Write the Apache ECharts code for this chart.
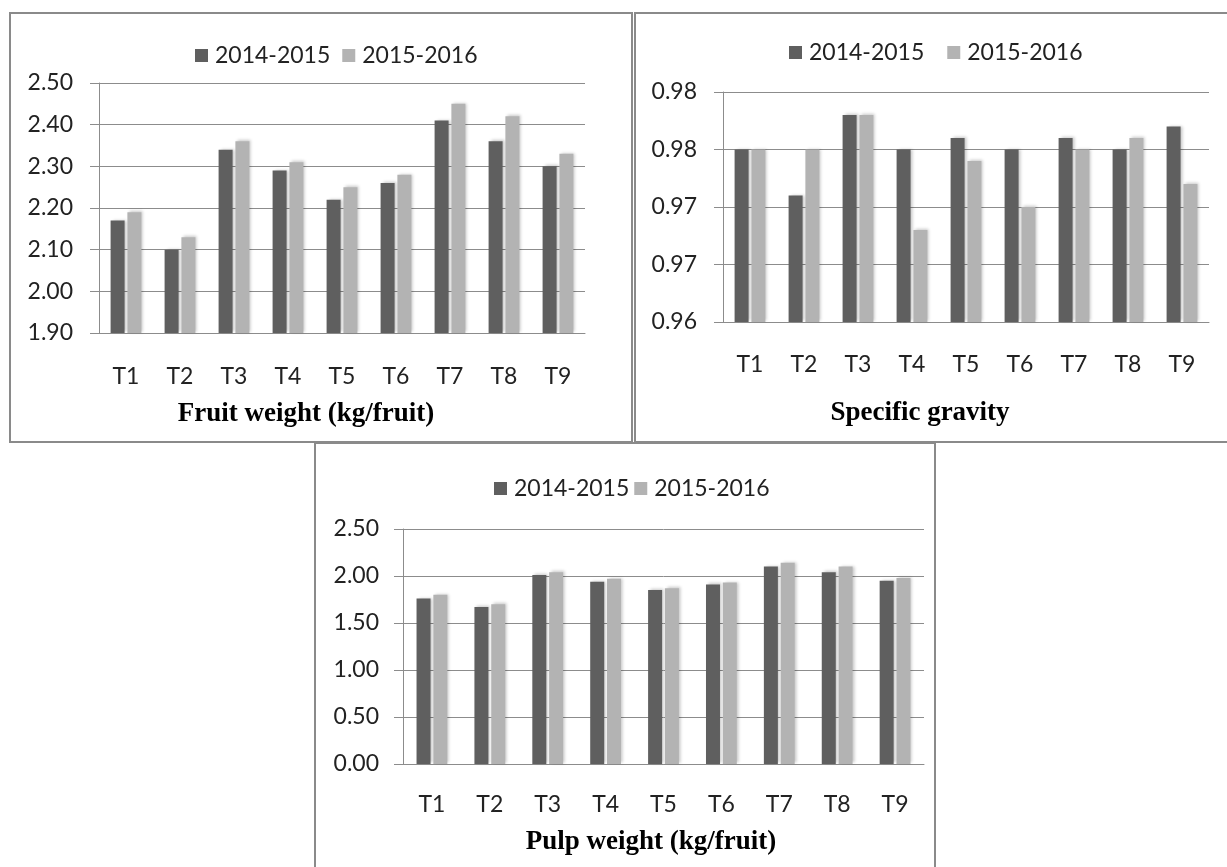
<!DOCTYPE html>
<html>
<head>
<meta charset="utf-8">
<script src="https://cdn.jsdelivr.net/npm/echarts@6/dist/echarts.min.js"></script>
<style>
html,body{margin:0;padding:0;background:#fff;}
#c{width:1227px;height:867px;}
</style>
</head>
<body>
<div id="c"></div>
<script>
var categories = ['T1','T2','T3','T4','T5','T6','T7','T8','T9'];
var seriesNames = ['2014-2015','2015-2016'];

var fruit2014 = [2.17, 2.10, 2.34, 2.29, 2.22, 2.26, 2.41, 2.36, 2.30];
var fruit2015 = [2.19, 2.13, 2.36, 2.31, 2.25, 2.28, 2.45, 2.42, 2.33];

var sg2014 = [0.975, 0.971, 0.978, 0.975, 0.976, 0.975, 0.976, 0.975, 0.977];
var sg2015 = [0.975, 0.975, 0.978, 0.968, 0.974, 0.970, 0.975, 0.976, 0.972];

var pulp2014 = [1.76, 1.67, 2.01, 1.94, 1.85, 1.91, 2.10, 2.04, 1.95];
var pulp2015 = [1.80, 1.70, 2.04, 1.97, 1.87, 1.93, 2.14, 2.10, 1.98];

var fruitTickLabels = ['1.90','2.00','2.10','2.20','2.30','2.40','2.50'];
var sgTickLabels = ['0.96','0.97','0.97','0.98','0.98'];
var pulpTickLabels = ['0.00','0.50','1.00','1.50','2.00','2.50'];

var titles = ['Fruit weight (kg/fruit)', 'Specific gravity', 'Pulp weight (kg/fruit)'];

var DARK = '#5f5f5f', LIGHT = '#b3b3b3', GRID = '#8c8c8c', BORDER = '#8a8a8a';
var FONT = 'Lato';
var FS = 23;

var chart = echarts.init(document.getElementById('c'), null, {renderer:'canvas'});

function yAxis(idx, min, max, interval, labels, margin) {
  return {
    type:'value', gridIndex: idx, min:min, max:max, interval:interval,
    axisLine:{show:true, lineStyle:{color:GRID, width:1}},
    axisTick:{show:true, length:9, lineStyle:{color:GRID}},
    splitLine:{show:true, lineStyle:{color:GRID, width:1}},
    axisLabel:{margin:margin, color:'#222', fontFamily:FONT, fontSize:FS,
      formatter:function(v, i){ return labels[i]; }}
  };
}
function xAxis(idx, margin) {
  return {
    type:'category', gridIndex: idx, data: categories,
    axisLine:{show:true, lineStyle:{color:GRID, width:1}},
    axisTick:{show:false},
    axisLabel:{margin:margin, color:'#222', fontFamily:FONT, fontSize:FS}
  };
}
function barSeries(name, color, idx, data) {
  return {
    type:'bar', name:name, xAxisIndex:idx, yAxisIndex:idx, data:data,
    barWidth:14, barGap:'20%',
    itemStyle:{color:color, shadowColor:'rgba(0,0,0,0.22)', shadowBlur:3, shadowOffsetX:2, shadowOffsetY:-1},
    emphasis:{disabled:true}, animation:false
  };
}
function legend(left, top, gap) {
  return {
    data:[{name:seriesNames[0], itemStyle:{color:DARK}}, {name:seriesNames[1], itemStyle:{color:LIGHT}}],
    left:left, top:top, itemWidth:13, itemHeight:13, itemGap:gap, icon:'rect',
    selectedMode:false,
    textStyle:{fontFamily:FONT, fontSize:FS, color:'#222', padding:[0,0,0,2]}
  };
}
function titleText(text, x, y) {
  return {type:'text', x:x, y:y, silent:true,
    style:{text:text, fill:'#000', font:'bold 27px "Liberation Serif", serif', textAlign:'center', textVerticalAlign:'middle'}};
}
function border(x, y, w, h) {
  return {type:'rect', shape:{x:x, y:y, width:w, height:h}, silent:true,
    style:{fill:null, stroke:BORDER, lineWidth:2}};
}

var option = {
  backgroundColor:'#fff',
  animation:false,
  graphic:[
    border(10, 13, 622, 429),
    border(635, 13, 620, 429),
    border(315, 443, 620, 440),
    titleText(titles[0], 306, 414),
    titleText(titles[1], 920, 413),
    titleText(titles[2], 651, 842)
  ],
  legend:[ legend(190, 39, 12), legend(784, 36, 23), legend(489, 472, 5) ],
  grid:[
    {left:99, top:83, width:486, height:250},
    {left:723, top:92, width:486, height:230},
    {left:403, top:529, width:521, height:235}
  ],
  xAxis:[ xAxis(0, 32), xAxis(1, 31), xAxis(2, 29) ],
  yAxis:[
    yAxis(0, 1.9, 2.5, 0.1, fruitTickLabels, 26),
    yAxis(1, 0.96, 0.98, 0.005, sgTickLabels, 26),
    yAxis(2, 0, 2.5, 0.5, pulpTickLabels, 24)
  ],
  series:[
    barSeries(seriesNames[0], DARK, 0, fruit2014),
    barSeries(seriesNames[1], LIGHT, 0, fruit2015),
    barSeries(seriesNames[0], DARK, 1, sg2014),
    barSeries(seriesNames[1], LIGHT, 1, sg2015),
    barSeries(seriesNames[0], DARK, 2, pulp2014),
    barSeries(seriesNames[1], LIGHT, 2, pulp2015)
  ]
};
chart.setOption(option);
</script>
</body>
</html>
